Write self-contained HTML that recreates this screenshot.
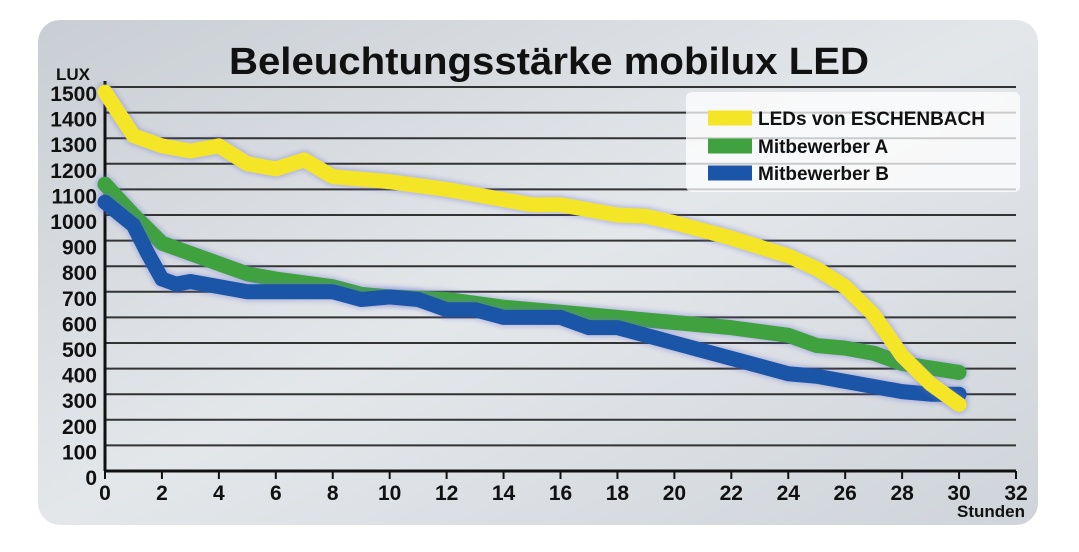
<!DOCTYPE html>
<html><head><meta charset="utf-8"><style>
body{margin:0;background:#fff;width:1079px;height:547px;overflow:hidden;font-family:"Liberation Sans",Arial,sans-serif}
</style></head><body>
<svg width="1079" height="547" xmlns="http://www.w3.org/2000/svg">
<defs>
<linearGradient id="bg" x1="0" y1="0" x2="1" y2="1">
<stop offset="0" stop-color="#c9ced4"/><stop offset="0.5" stop-color="#e4e7ea"/><stop offset="1" stop-color="#cfd4da"/>
</linearGradient>
<filter id="glow" x="-10%" y="-10%" width="120%" height="120%"><feGaussianBlur stdDeviation="2.5"/></filter>
</defs>
<rect x="38" y="20" width="1000" height="505" rx="22" fill="url(#bg)"/>
<text x="549" y="74" text-anchor="middle" font-size="38" font-weight="bold" fill="#111" textLength="640" lengthAdjust="spacingAndGlyphs">Beleuchtungsstärke mobilux LED</text>
<text x="56" y="80" font-size="17" font-weight="bold" fill="#111">LUX</text>
<text x="1025" y="517" text-anchor="end" font-size="17" font-weight="bold" fill="#111">Stunden</text>
<g id="grid"></g><g id="series"></g>
<g>
<rect x="686" y="92" width="334" height="100" rx="6" fill="#fff" opacity="0.75"/>
<g><line x1="708" y1="118" x2="752" y2="118" stroke="#f4e526" stroke-width="15"/><text x="758" y="125" font-size="19" font-weight="bold" fill="#111">LEDs von ESCHENBACH</text></g>
<g><line x1="708" y1="146" x2="752" y2="146" stroke="#3fa23f" stroke-width="15"/><text x="758" y="153" font-size="19" font-weight="bold" fill="#111">Mitbewerber A</text></g>
<g><line x1="708" y1="173" x2="752" y2="173" stroke="#1a55a8" stroke-width="15"/><text x="758" y="180" font-size="19" font-weight="bold" fill="#111">Mitbewerber B</text></g>
</g>
</svg>
<script>
const xTicks=[0,2,4,6,8,10,12,14,16,18,20,22,24,26,28,30,32];
const yTicks=[0,100,200,300,400,500,600,700,800,900,1000,1100,1200,1300,1400,1500];
const yellowX=[0,1,2,3,4,5,6,7,8,10,12,14,15,16,18,19,20,22,24,25,26,27,28,29,30];
const yellowY=[1480,1310,1270,1250,1270,1200,1180,1215,1150,1130,1100,1060,1040,1040,1000,995,970,910,840,790,720,610,450,340,260];
const greenX=[0,1,2,3,4,5,6,8,9,10,12,14,16,18,20,22,24,25,26,27,28,30];
const greenY=[1120,1000,890,850,810,770,750,720,690,680,670,640,620,600,580,560,530,490,480,460,420,385];
const blueX=[0,1,1.5,2,2.5,3,4,5,6,8,9,10,11,12,13,14,16,17,18,20,22,24,25,26,28,29,30];
const blueY=[1050,960,850,750,730,740,720,700,700,700,670,680,670,630,630,600,600,560,560,500,440,380,370,350,310,300,300];
const NS='http://www.w3.org/2000/svg';
const X0=105,X1=1016,Y0=471,Y1=87;
function sx(v){return X0+(X1-X0)*v/32;}
function sy(v){return Y0-(Y0-Y1)*v/1500;}
const grid=document.getElementById('grid');
function mk(t,a,p){const e=document.createElementNS(NS,t);for(const k in a)e.setAttribute(k,a[k]);(p||grid).appendChild(e);return e;}
yTicks.forEach(v=>{
 const l=mk('line',{x1:X0,x2:X1,y1:sy(v),y2:sy(v),stroke:v===0?'#111':'#333','stroke-width':v===0?3:2});
 
 
 const t=mk('text',{x:X0-8,y:sy(v)+14,'text-anchor':'end','font-size':21,'font-weight':'bold',fill:'#111'});
 t.textContent=v;
 
 
});
const ax=mk('line',{x1:X0,x2:X0,y1:Y1-6,y2:Y0,stroke:'#111','stroke-width':3});


xTicks.forEach(v=>{
 const l=mk('line',{x1:sx(v),x2:sx(v),y1:Y0,y2:Y0+8,stroke:'#111','stroke-width':2});
 
 
 const t=mk('text',{x:sx(v),y:Y0+29,'text-anchor':'middle','font-size':21,'font-weight':'bold',fill:'#111'});
 t.textContent=v;
 
 
});
const sg=document.getElementById('series');
function line(xs,ys,col,name){
 const pts=xs.map((x,i)=>sx(x)+','+sy(ys[i])).join(' ');
 const g=mk('polyline',{points:pts,fill:'none',stroke:'#6a6fd0','stroke-width':19,'stroke-linejoin':'round','stroke-linecap':'round',opacity:0.35,filter:'url(#glow)'},sg);
 
 
 const p=mk('polyline',{points:pts,fill:'none',stroke:col,'stroke-width':15,'stroke-linejoin':'round','stroke-linecap':'round'},sg);
 
 
}
line(greenX,greenY,'#3fa23f','series-mitbewerber-a');
line(blueX,blueY,'#1a55a8','series-mitbewerber-b');
line(yellowX,yellowY,'#f4e526','series-eschenbach');
</script>
</body></html>
